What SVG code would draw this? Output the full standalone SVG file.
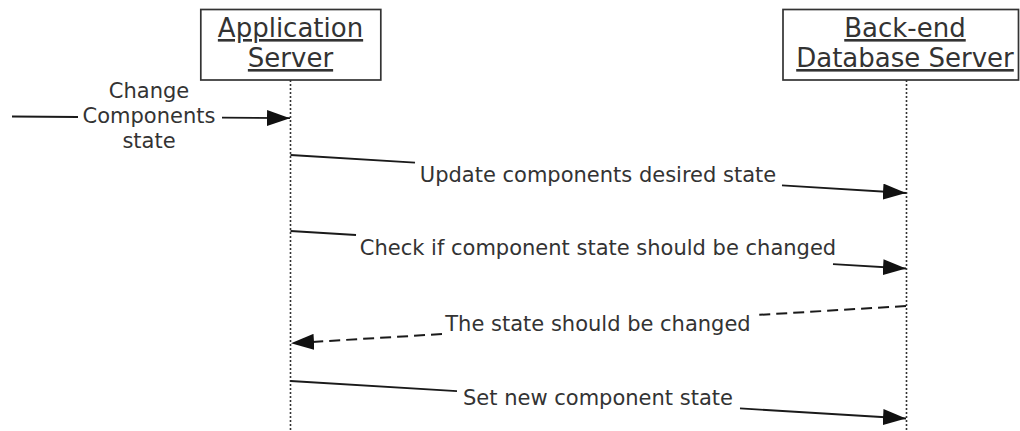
<svg xmlns="http://www.w3.org/2000/svg" width="1020" height="431" viewBox="0 0 1020 431">
  <style>
    .box { fill: #ffffff; stroke: #333333; stroke-width: 1.7; }
    .title { font-family: "DejaVu Sans", Verdana, sans-serif; font-size: 26px; fill: #333333; text-anchor: middle; text-decoration: underline; }
    .label { font-family: "DejaVu Sans", Verdana, sans-serif; font-size: 21px; fill: #333333; text-anchor: middle; }
    .lifeline { stroke: #333333; stroke-width: 1.6; stroke-dasharray: 2 2; fill: none; }
    .msg { stroke: #1a1a1a; stroke-width: 1.8; fill: none; }
    .arrow { marker-end: url(#head); }
    .reply { stroke-dasharray: 11 6; stroke-width: 2; }
  </style>
  <defs>
    <marker id="head" viewBox="0 0 23 16" refX="23" refY="8" markerWidth="23" markerHeight="16" markerUnits="userSpaceOnUse" orient="auto">
      <path d="M0,0 L23,8 L0,16 z" fill="#111111"/>
    </marker>
  </defs>

  <rect width="1020" height="431" fill="#ffffff"/>

  <!-- participants -->
  <g id="app-server">
    <rect class="box" x="200.8" y="9.5" width="180" height="70.5"/>
    <text class="title" x="290.5" y="37">Application</text>
    <text class="title" x="290.5" y="67">Server</text>
    <line class="lifeline" x1="290.5" y1="80" x2="290.5" y2="431"/>
  </g>

  <g id="db-server">
    <rect class="box" x="783" y="9.5" width="235.5" height="70.5"/>
    <text class="title" x="905" y="37">Back-end</text>
    <text class="title" x="905" y="67">Database Server</text>
    <line class="lifeline" x1="906.5" y1="80" x2="906.5" y2="431"/>
  </g>

  <!-- message labels -->
  <g id="labels">
    <text class="label" x="149" y="98">Change</text>
    <text class="label" x="149" y="123">Components</text>
    <text class="label" x="149" y="148">state</text>
    <text class="label" x="598" y="182">Update components desired state</text>
    <text class="label" x="598" y="255">Check if component state should be changed</text>
    <text class="label" x="598" y="331">The state should be changed</text>
    <text class="label" x="598" y="405">Set new component state</text>
  </g>

  <!-- connectors -->
  <g id="connectors">
    <line class="msg" x1="12" y1="116.5" x2="78" y2="117"/>
    <line class="msg arrow" x1="222" y1="117.6" x2="290" y2="118.2"/>

    <line class="msg" x1="290.5" y1="155" x2="415" y2="162.7"/>
    <line class="msg arrow" x1="782" y1="185.4" x2="906" y2="193"/>

    <line class="msg" x1="290.5" y1="231" x2="356" y2="235"/>
    <line class="msg arrow" x1="833" y1="264.1" x2="906" y2="268.5"/>

    <line class="msg reply" x1="906" y1="306" x2="757" y2="315"/>
    <line class="msg reply arrow" x1="442" y1="334.1" x2="291" y2="343.2"/>

    <line class="msg" x1="290.5" y1="381" x2="457" y2="391.1"/>
    <line class="msg arrow" x1="740" y1="408.4" x2="906" y2="418.5"/>
  </g>
</svg>
